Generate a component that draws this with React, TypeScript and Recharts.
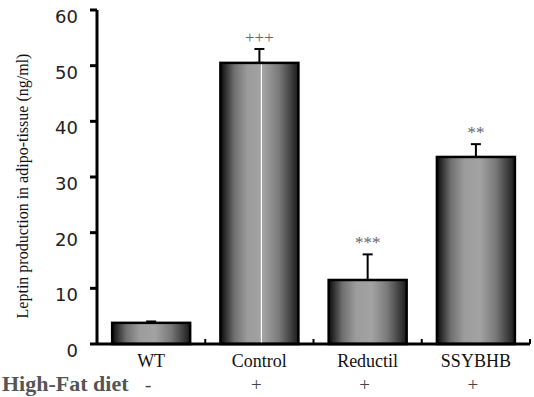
import React from 'react';
import { BarChart, Bar, XAxis, YAxis, ErrorBar } from 'recharts';

// Leptin production in adipose tissue per treatment group (ng/ml)
const groups = ['WT', 'Control', 'Reductil', 'SSYBHB'];
const leptin = [3.8, 50.5, 11.5, 33.6];
const sem = [0.25, 2.5, 4.6, 2.3];
const significance = ['', '+++', '***', '**'];
const highFatDiet = ['-', '+', '+', '+'];
const yTicks = [0, 10, 20, 30, 40, 50, 60];

const data = groups.map((name, i) => ({
  name,
  mean: leptin[i],
  err: [0, sem[i]],
  sig: significance[i],
  diet: highFatDiet[i],
}));

const SERIF = 'Liberation Serif, Times New Roman, serif';
const serif = (size: number, extra: any = {}) => ({ fontFamily: SERIF, fontSize: size, ...extra });

const GradientBar = (props: any) => {
  const { x, y, width, height, payload } = props;
  const perUnit = payload.mean ? height / payload.mean : 0;
  const errTop = y - payload.err[1] * perUnit;
  return (
    <g>
      <rect x={x} y={y} width={width} height={height} fill="url(#barShade)" stroke="#000" strokeWidth={2.5} />
      {payload.name === 'Control' && (
        <line x1={x + width / 2 + 2} x2={x + width / 2 + 2} y1={y + 1.5} y2={y + height} stroke="#fff" strokeWidth={1.2} />
      )}
      {payload.sig && (
        <text x={x + width / 2} y={errTop - 6} textAnchor="middle" style={serif(17)} fill="#666">
          {payload.sig}
        </text>
      )}
    </g>
  );
};

const CategoryTick = (props: any) => {
  const { x, y, payload, index } = props;
  const half = payload.offset || 0;
  const last = index === groups.length - 1;
  return (
    <g>
      {index > 0 && <line x1={x - half} x2={x - half} y1={y} y2={y - 5} stroke="#000" strokeWidth={2} />}
      {last && <line x1={x + half} x2={x + half} y1={y} y2={y - 5} stroke="#000" strokeWidth={2} />}
      <text x={x} y={y + 23} textAnchor="middle" style={serif(18)} fill="#111">
        {payload.value}
      </text>
      <text x={x - 3} y={y + 47} textAnchor="middle" style={serif(19)} fill="#444">
        {data[index].diet}
      </text>
      {index === 0 && (
        <text x={2} y={y + 47} textAnchor="start" style={serif(22, { fontWeight: 'bold' })} fill="#555">
          High-Fat diet
        </text>
      )}
    </g>
  );
};

const ValueTick = (props: any) => {
  const { x, y, payload } = props;
  return (
    <text x={x} y={y + 13} textAnchor="end" style={{ fontFamily: 'DejaVu Sans, sans-serif', fontSize: 18 }} fill="#222">
      {payload.value}
    </text>
  );
};

const AxisTitle = (props: any) => {
  const vb = props.viewBox || { x: 0, y: 10, width: 97, height: 334 };
  const cx = vb.x + 28;
  const cy = vb.y + vb.height / 2 + 9;
  return (
    <text x={cx} y={cy} transform={`rotate(-90, ${cx}, ${cy})`} textAnchor="middle" style={serif(16)} fill="#111">
      Leptin production in adipo-tissue (ng/ml)
    </text>
  );
};

export default function App() {
  return (
    <div style={{ position: 'absolute', left: 0, top: 0, width: 534, height: 397, background: '#fff' }}>
      <BarChart width={534} height={397} data={data} margin={{ top: 10, right: 4, bottom: 0, left: 0 }} barCategoryGap="14%">
        <defs>
          <linearGradient id="barShade" x1="0" y1="0" x2="1" y2="0">
            <stop offset="0" stopColor="#0a0a0a" />
            <stop offset="0.18" stopColor="#707070" />
            <stop offset="0.35" stopColor="#9c9c9c" />
            <stop offset="0.55" stopColor="#a3a3a3" />
            <stop offset="0.75" stopColor="#7a7a7a" />
            <stop offset="0.92" stopColor="#3a3a3a" />
            <stop offset="1" stopColor="#1a1a1a" />
          </linearGradient>
        </defs>
        <XAxis
          dataKey="name"
          height={53}
          axisLine={{ stroke: '#000', strokeWidth: 3 }}
          tickLine={false}
          tickSize={0}
          tickMargin={0}
          tick={<CategoryTick />}
          interval={0}
        />
        <YAxis
          width={97}
          domain={[0, 60]}
          ticks={yTicks}
          interval={0}
          axisLine={{ stroke: '#000', strokeWidth: 3 }}
          tickLine={{ stroke: '#000', strokeWidth: 3 }}
          tickSize={7}
          tickMargin={12}
          tick={<ValueTick />}
          label={<AxisTitle />}
        />
        <Bar dataKey="mean" shape={<GradientBar />} isAnimationActive={false}>
          <ErrorBar dataKey="err" width={5} stroke="#000" strokeWidth={2} direction="y" isAnimationActive={false} />
        </Bar>
      </BarChart>
    </div>
  );
}
